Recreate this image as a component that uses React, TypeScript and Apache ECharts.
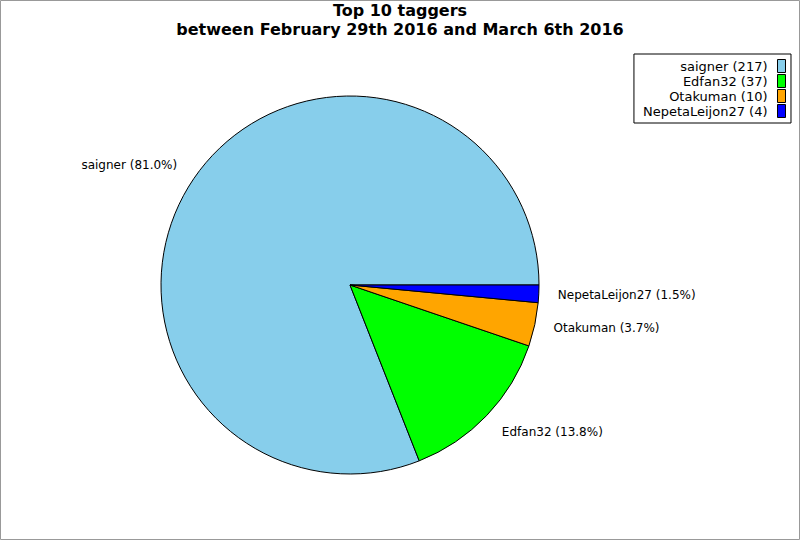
import React, { useEffect, useRef } from "react";
import * as echarts from "echarts";

const names = ["saigner", "Edfan32", "Otakuman", "NepetaLeijon27"];
const counts = [217, 37, 10, 4];
const colors = ["#87CEEB", "#00FF00", "#FFA500", "#0000FF"];
const titleLines = ["Top 10 taggers", "between February 29th 2016 and March 6th 2016"];

export default function App() {
  const ref = useRef<HTMLDivElement>(null);
  useEffect(() => {
    const chart = echarts.init(ref.current!, null, { renderer: "svg" });
    const total = counts.reduce((a, b) => a + b, 0);
    // mid angles (counter-clockwise from east) for label anchoring
    const mids: number[] = [];
    let acc = 0;
    counts.forEach((c) => {
      const a = (c / total) * 360;
      mids.push(acc + a / 2);
      acc += a;
    });
    const font = "DejaVu Sans";
    const titleStyle = { fontFamily: font, fontWeight: "bold", fontSize: 16, lineHeight: 16, color: "#000" };
    chart.setOption({
      animation: false,
      backgroundColor: "#fff",
      title: [
        { text: titleLines[0], left: "center", top: 2.5, padding: 0, textStyle: titleStyle },
        { text: titleLines[1], left: "center", top: 21, padding: 0, textStyle: titleStyle },
      ],
      legend: {
        orient: "vertical",
        right: 9,
        top: 54,
        align: "right",
        borderColor: "#000",
        borderWidth: 1,
        padding: [5, 5, 5, 9],
        itemWidth: 8,
        itemHeight: 13,
        itemGap: 1,
        icon: "rect",
        itemStyle: { borderColor: "#000", borderWidth: 1 },
        textStyle: { fontFamily: font, fontSize: 13, lineHeight: 14, color: "#000", padding: [0, 5, 0, 0] },
        data: names,
        formatter: (n: string) => `${n} (${counts[names.indexOf(n)]})`,
      },
      graphic: [
        {
          type: "rect",
          shape: { x: 0.5, y: 0.5, width: 799, height: 539 },
          style: { fill: "none", stroke: "#999", lineWidth: 1 },
          silent: true,
        },
      ],
      series: [
        {
          type: "pie",
          center: [350, 285],
          radius: 189,
          startAngle: 0,
          clockwise: false,
          avoidLabelOverlap: false,
          itemStyle: { borderColor: "#000", borderWidth: 1 },
          emphasis: { disabled: true },
          label: {
            show: true,
            position: "outside",
            fontFamily: font,
            fontSize: 12,
            color: "#000",
            formatter: (p: any) => `${p.name} (${((p.value / total) * 100).toFixed(1)}%)`,
          },
          labelLayout: (p: any) => {
            const s = Math.sin((mids[p.dataIndex] * Math.PI) / 180);
            const h = p.labelRect ? p.labelRect.height / 2 : 7;
            if (s > 0.5) return { dy: -h };
            if (s < -0.5) return { dy: h + 1 };
            return {};
          },
          labelLine: { show: false, length: 14, length2: 0 },
          data: names.map((n, i) => ({ name: n, value: counts[i], itemStyle: { color: colors[i] } })),
        },
      ],
    });
    return () => chart.dispose();
  }, []);
  return <div ref={ref} style={{ position: "fixed", left: 0, top: 0, width: 800, height: 540 }} />;
}
